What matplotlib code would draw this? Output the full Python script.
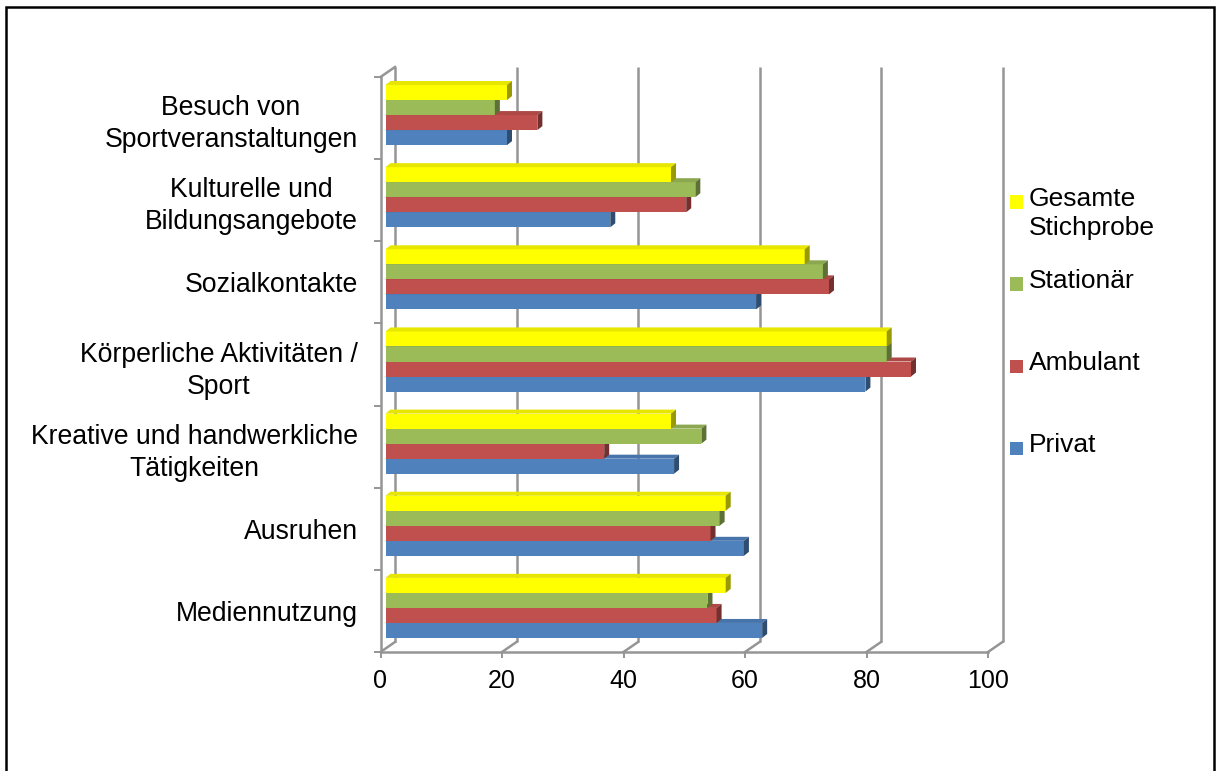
import matplotlib
matplotlib.use('Agg')
import matplotlib.pyplot as plt
import matplotlib.transforms as mtransforms
from matplotlib.patches import Polygon, Rectangle
from matplotlib.colors import to_rgb

plt.rcParams['font.family'] = ['Liberation Sans', 'DejaVu Sans']

# ---------------- data ----------------
categories = ["Mediennutzung",
              "Ausruhen",
              "Kreative und handwerkliche\nTätigkeiten",
              "Körperliche Aktivitäten /\nSport",
              "Sozialkontakte",
              "Kulturelle und\nBildungsangebote",
              "Besuch von\nSportveranstaltungen"]
series_names = ["Privat", "Ambulant", "Stationär", "Gesamte\nStichprobe"]
privat = [62, 59, 47.5, 79, 61, 37, 20]
ambulant = [54.5, 53.5, 36, 86.5, 73, 49.5, 25]
stationaer = [53, 55, 52, 82.5, 72, 51, 18]
gesamt = [56, 56, 47, 82.5, 69, 47, 20]
series_values = [privat, ambulant, stationaer, gesamt]
colors = ["#4F81BD", "#C0504D", "#9BBB59", "#FFFF00"]
x_ticks = [0, 20, 40, 60, 80, 100]

# ---------------- figure ----------------
W, H = 1216, 771
fig = plt.figure(figsize=(W / 100, H / 100), dpi=100)
ax_left, ax_right, ax_top, ax_bottom = 380.5, 988, 77, 652
ax = fig.add_axes([ax_left / W, 1 - ax_bottom / H,
                   (ax_right - ax_left) / W, (ax_bottom - ax_top) / H])
ax.set_xlim(0, 100)
ax.set_ylim(-0.5, len(categories) - 0.5)
ax.patch.set_visible(False)
for s in ax.spines.values():
    s.set_visible(False)

sx = (ax_right - ax_left) / 100.0
sy = (ax_bottom - ax_top) / len(categories)
gc = '#959595'
glw = 1.8

# back wall offset (pixels)
bdx, bdy = 14.5, 10
back = ax.transData + mtransforms.Affine2D().translate(bdx, bdy)
ymin, ymax = -0.5, len(categories) - 0.5

# back-wall gridlines
for t in x_ticks:
    ax.plot([t, t], [ymin, ymax], transform=back, color=gc, lw=glw,
            clip_on=False, zorder=1, solid_capstyle='butt')
# front floor line and left front axis line
ax.plot([0, 100], [ymin, ymin], color=gc, lw=glw, clip_on=False, zorder=1)
ax.plot([0, 0], [ymin, ymax], color=gc, lw=glw, clip_on=False, zorder=1)
# slanted connectors
for t in x_ticks:
    ax.plot([t, t + bdx / sx], [ymin, ymin + bdy / sy], color=gc, lw=glw,
            clip_on=False, zorder=1)
ax.plot([0, bdx / sx], [ymax, ymax + bdy / sy], color=gc, lw=glw,
        clip_on=False, zorder=1)

# ---------------- 3D bars ----------------
fdx, fdy = 5, 3          # front face offset (px)
ddx, ddy = 5 / sx, 4 / sy  # bar depth (data units)
barT = ax.transData + mtransforms.Affine2D().translate(fdx, fdy)
h = 0.183
n = len(series_values)


def shade(c, f):
    r, g, b = to_rgb(c)
    return (r * f, g * f, b * f)


for i, (vals, c) in enumerate(zip(series_values, colors)):
    z = 3 + i
    for j, v in enumerate(vals):
        y = j + (i - (n - 1) / 2) * h
        y0, y1 = y - h / 2, y + h / 2
        ax.barh(y, v, height=h, color=c, transform=barT, zorder=z,
                linewidth=0)
        top = Polygon([(0, y1), (ddx, y1 + ddy), (v + ddx, y1 + ddy), (v, y1)],
                      closed=True, facecolor=shade(c, 0.9), edgecolor='none',
                      transform=barT, zorder=z)
        side = Polygon([(v, y0), (v + ddx, y0 + ddy), (v + ddx, y1 + ddy), (v, y1)],
                       closed=True, facecolor=shade(c, 0.6), edgecolor='none',
                       transform=barT, zorder=z)
        ax.add_patch(top)
        ax.add_patch(side)

# ---------------- ticks ----------------
ax.set_xticks(x_ticks)
ax.set_xticklabels([str(t) for t in x_ticks], fontsize=18)
ax.tick_params(axis='x', direction='out', length=4.5, width=1.4, color=gc,
               pad=8, labelsize=18)

ax.set_yticks([k - 0.5 for k in range(len(categories) + 1)])
ax.set_yticklabels([])
ax.tick_params(axis='y', which='major', direction='out', length=5,
               width=1.4, color=gc)
ax.set_yticks(range(len(categories)), minor=True)
ax.set_yticklabels(categories, minor=True, fontsize=19.2)
ax.tick_params(axis='y', which='minor', length=0, pad=16.5)
for lbl in ax.get_yticklabels(minor=True):
    lbl.set_multialignment('center')
    lbl.set_linespacing(1.3)

# ---------------- legend (manual) ----------------
leg_order = [3, 2, 1, 0]
for k, idx in enumerate(leg_order):
    yc = 202 + 82 * k
    fig.patches.append(Rectangle((1010 / W, 1 - (yc + 6.5) / H), 13 / W, 13 / H,
                                 transform=fig.transFigure,
                                 facecolor=colors[idx], edgecolor='none'))
    fig.text(1029 / W, 1 - (yc - 15) / H, series_names[idx], fontsize=19,
             va='top', ha='left', linespacing=1.28)

# ---------------- chart border ----------------
fig.patches.append(Rectangle((6 / W, -0.05), (1214 - 6) / W, (1 - 7 / H) + 0.05,
                             transform=fig.transFigure, fill=False,
                             edgecolor='black', linewidth=1.8))

fig.savefig('out.png', dpi=100)
